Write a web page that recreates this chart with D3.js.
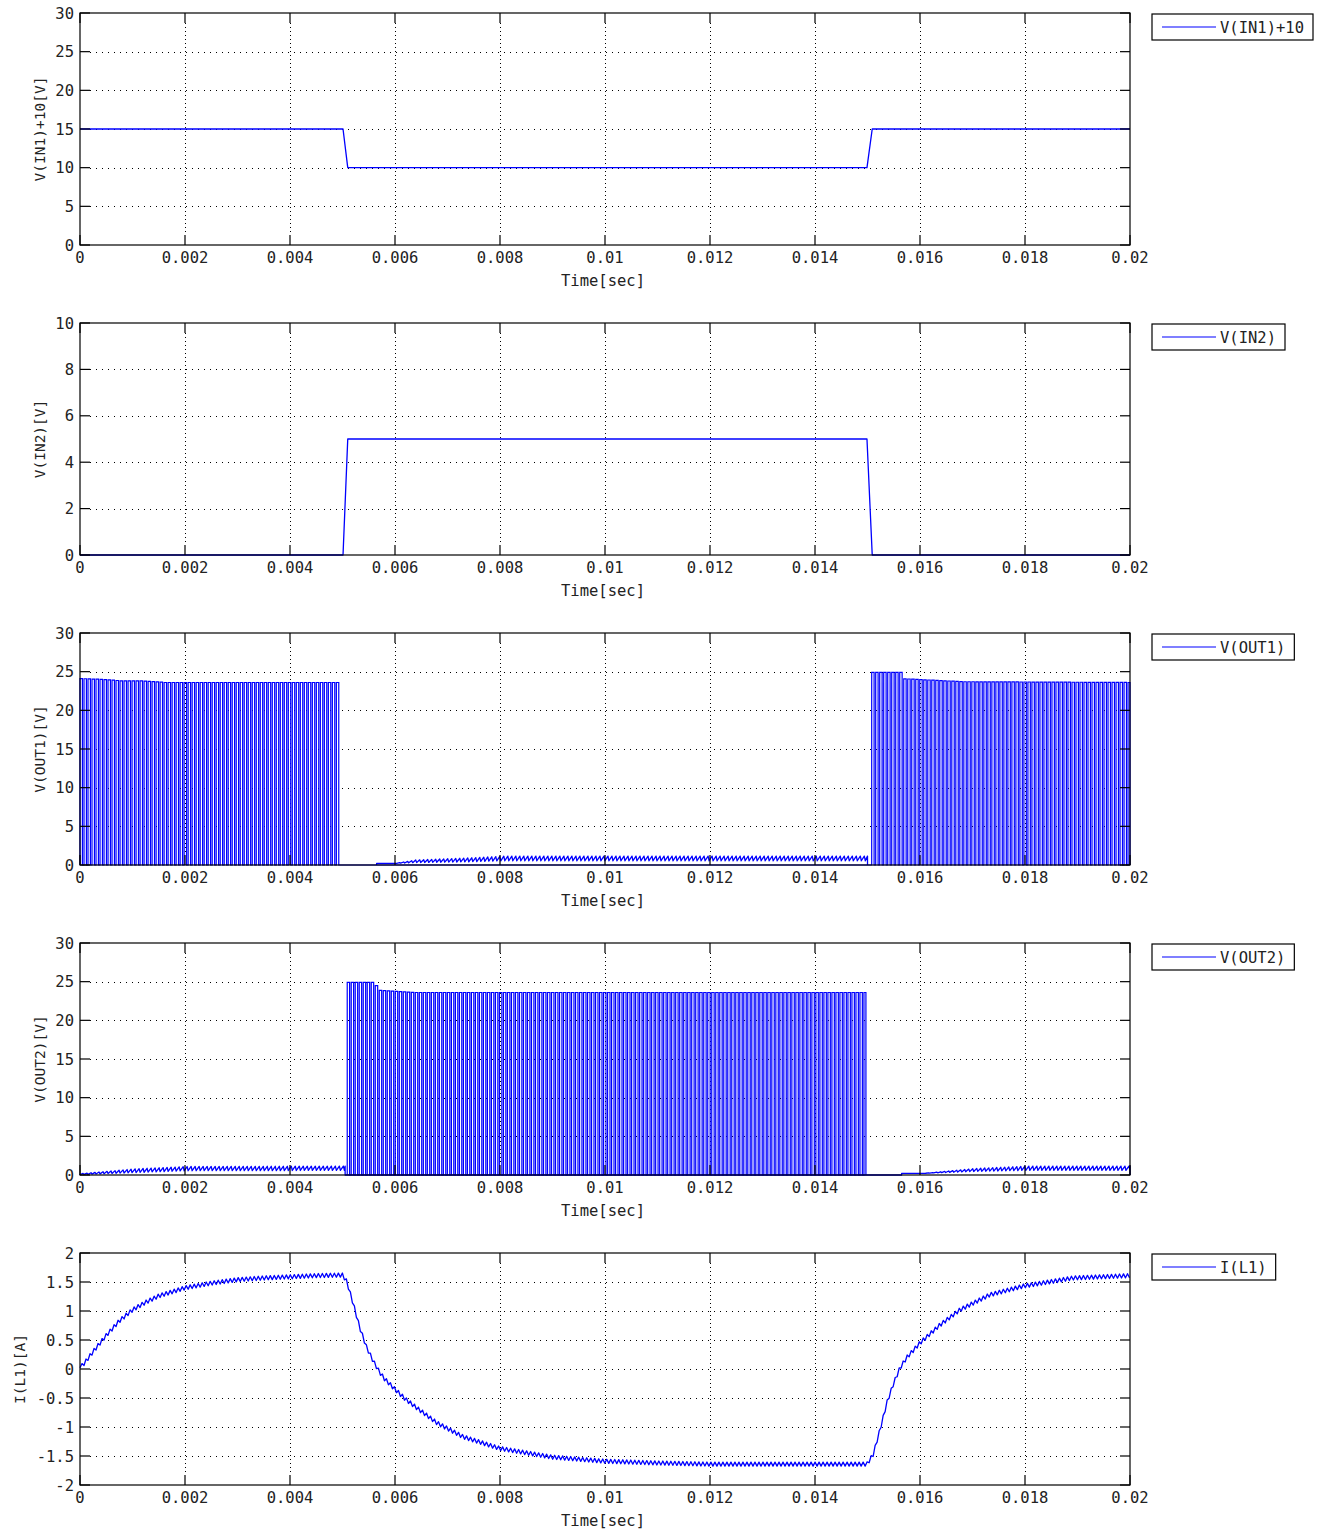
<!DOCTYPE html>
<meta charset="utf-8">
<style>
body { margin: 0; background: #fff; }
svg text { font-family: "DejaVu Sans Mono", "Liberation Mono", monospace; font-size: 15.5px; fill: #222; }
.frame { fill: none; stroke: #000; stroke-width: 1.2px; }
.tick { stroke: #000; stroke-width: 1.2px; }
.grid-h { stroke: #000; stroke-width: 1px; stroke-dasharray: 1,5; shape-rendering: crispEdges; }
.grid-v { stroke: #000; stroke-width: 1px; stroke-dasharray: 1,3; shape-rendering: crispEdges; }
.trace { fill: none; stroke: #0000ff; stroke-width: 1.3px; stroke-linejoin: round; }
.trace.pwm { stroke-width: 1.2px; stroke-linejoin: miter; }
.legend rect { fill: #fff; stroke: #000; stroke-width: 1.2px; }
.legend line { stroke: #0000ff; stroke-width: 1.2px; }
</style>
<body>
<div id="main"></div>
<script src="https://d3js.org/d3.v7.min.js"></script>
<script>
// ---- data ----
var xTicks = [0, 0.002, 0.004, 0.006, 0.008, 0.01, 0.012, 0.014, 0.016, 0.018, 0.02];
var xTickLabels = ["0", "0.002", "0.004", "0.006", "0.008", "0.01", "0.012", "0.014", "0.016", "0.018", "0.02"];

// V(IN1)+10
var in1Time = [0, 0.00501, 0.0051, 0.01499, 0.01509, 0.02];
var in1Value = [15, 15, 10, 10, 15, 15];
// V(IN2)
var in2Time = [0, 0.00501, 0.0051, 0.01499, 0.01509, 0.02];
var in2Value = [0, 0, 5, 5, 0, 0];

// switching: period read from the pulse spacing (~4 px)
var pwmPeriod = 7.63e-5;
var pwmDuty = 0.6;

// V(OUT1): pulse bursts, pulse-top level, off-state ripple
var out1BurstStart = [0, 0.01508];
var out1BurstEnd = [0.00495, 0.02];
var out1TopTime = [0, 0.0004, 0.0008, 0.0012, 0.0016, 0.00495, 0.01508, 0.01562, 0.01563, 0.0168, 0.02];
var out1TopValue = [24.1, 24.0, 23.8, 23.8, 23.6, 23.6, 24.9, 24.9, 24.1, 23.7, 23.6];
var out1RippleTime = [0.00565, 0.00594, 0.00634, 0.0073, 0.00806, 0.015];
var out1RippleLow = [0.2, 0.2, 0.3, 0.4, 0.55, 0.55];
var out1RippleHigh = [0.2, 0.2, 0.65, 0.9, 1.15, 1.15];

// V(OUT2)
var out2BurstStart = [0.00509];
var out2BurstEnd = [0.01497];
var out2TopTime = [0.00509, 0.00562, 0.00563, 0.00634, 0.01497];
var out2TopValue = [24.9, 24.9, 23.9, 23.6, 23.6];
var out2RippleTime = [0, 0.001, 0.002, 0.00505, 0.01565, 0.016, 0.017, 0.018, 0.02];
var out2RippleLow = [0.05, 0.3, 0.55, 0.6, 0.2, 0.2, 0.45, 0.6, 0.6];
var out2RippleHigh = [0.2, 0.8, 1.1, 1.15, 0.2, 0.2, 0.85, 1.15, 1.15];
var out2RippleSegStart = [0, 0.01565];
var out2RippleSegEnd = [0.00505, 0.02];

// I(L1): mean current and ripple (peak to peak)
var ilTime = [0, 0.0001, 0.00025, 0.0005, 0.00075, 0.001, 0.00125, 0.0015, 0.00175, 0.002, 0.0025, 0.003, 0.0035, 0.004, 0.0045, 0.005,
  0.00508, 0.0052, 0.00533, 0.00546, 0.00559, 0.00571, 0.0058, 0.006, 0.0062, 0.0064, 0.0068, 0.0073, 0.008, 0.009, 0.01, 0.011, 0.012,
  0.01499, 0.01511, 0.01524, 0.01537, 0.0155, 0.01562, 0.01575, 0.016, 0.01638, 0.01676, 0.01733, 0.01797, 0.01892, 0.02];
var ilValue = [0.02, 0.12, 0.3, 0.58, 0.83, 1.02, 1.15, 1.26, 1.33, 1.40, 1.48, 1.54, 1.57, 1.59, 1.61, 1.62,
  1.51, 1.14, 0.71, 0.37, 0.13, -0.06, -0.17, -0.35, -0.52, -0.66, -0.93, -1.17, -1.37, -1.52, -1.59, -1.62, -1.64,
  -1.64, -1.47, -1.04, -0.58, -0.24, 0.02, 0.20, 0.45, 0.76, 1.02, 1.28, 1.43, 1.57, 1.61];
var ilRipple = 0.07;

var panelYLabel = ["V(IN1)+10[V]", "V(IN2)[V]", "V(OUT1)[V]", "V(OUT2)[V]", "I(L1)[A]"];
var panelLegend = ["V(IN1)+10", "V(IN2)", "V(OUT1)", "V(OUT2)", "I(L1)"];
var panelYDomain = [[0, 30], [0, 10], [0, 30], [0, 30], [-2, 2]];
var panelYTicks = [
  [0, 5, 10, 15, 20, 25, 30],
  [0, 2, 4, 6, 8, 10],
  [0, 5, 10, 15, 20, 25, 30],
  [0, 5, 10, 15, 20, 25, 30],
  [-2, -1.5, -1, -0.5, 0, 0.5, 1, 1.5, 2]
];

// ---- build traces ----
function lerp(ts, vs) {
  return d3.scaleLinear().domain(ts).range(vs).clamp(true);
}

function pulses(starts, ends, topT, topV) {
  var top = lerp(topT, topV), pts = [];
  starts.forEach(function(s, i) {
    var e = ends[i];
    for (var t = s; t < e; t += pwmPeriod) {
      var tf = Math.min(t + pwmDuty * pwmPeriod, e);
      pts.push([t, 0], [t, top(t)], [tf, top(t)], [tf, 0]);
    }
  });
  return pts;
}

function ripple(starts, ends, rt, lo, hi) {
  var fLo = lerp(rt, lo), fHi = lerp(rt, hi), pts = [];
  starts.forEach(function(s, i) {
    var e = ends[i];
    pts.push([s, 0]);
    for (var t = s; t < e; t += pwmPeriod) {
      pts.push([t, fLo(t)], [Math.min(t + 0.75 * pwmPeriod, e), fHi(t)]);
    }
    pts.push([e, 0]);
  });
  return pts;
}

var out1Pulse = pulses(out1BurstStart, out1BurstEnd, out1TopTime, out1TopValue);
var out1Ripple = ripple([out1RippleTime[0]], [out1RippleTime[out1RippleTime.length - 1]], out1RippleTime, out1RippleLow, out1RippleHigh);
var out2Pulse = pulses(out2BurstStart, out2BurstEnd, out2TopTime, out2TopValue);
var out2Ripple = ripple(out2RippleSegStart, out2RippleSegEnd, out2RippleTime, out2RippleLow, out2RippleHigh);

var ilMean = d3.scaleLinear().domain(ilTime).range(ilValue);
var ilPts = [];
for (var t = 0; t <= 0.02; t += pwmPeriod / 2) {
  var k = Math.round(t / (pwmPeriod / 2));
  ilPts.push([t, ilMean(t) + (k % 2 ? ilRipple / 2 : -ilRipple / 2)]);
}
ilPts[0] = [0, ilValue[0]];

// each panel: list of [points, isPulse]
var panelData = [
  [[in1Time.map(function(t, i) { return [t, in1Value[i]]; }), false]],
  [[in2Time.map(function(t, i) { return [t, in2Value[i]]; }), false]],
  [[out1Pulse, true], [out1Ripple, false]],
  [[out2Pulse, true], [out2Ripple, false]],
  [[ilPts, false]]
];

// ---- draw ----
var svg = d3.select("#main").append("svg")
  .attr("width", 1326)
  .attr("height", 1532);

var left = 80, right = 1130, panelH = 232, tickLen = 10;
var x = d3.scaleLinear().domain([0, 0.02]).range([left, right]);

panelData.forEach(function(traces, p) {
  var top = 13 + p * 310, bottom = top + panelH;
  var y = d3.scaleLinear().domain(panelYDomain[p]).range([bottom, top]);
  var g = svg.append("g");

  // grid
  g.selectAll(".grid-h").data(panelYTicks[p].slice(1, -1)).enter().append("line")
    .attr("class", "grid-h")
    .attr("x1", left + tickLen).attr("x2", right - tickLen)
    .attr("y1", function(d) { return Math.round(y(d)) + 0.5; })
    .attr("y2", function(d) { return Math.round(y(d)) + 0.5; });
  g.selectAll(".grid-v").data(xTicks.slice(1, -1)).enter().append("line")
    .attr("class", "grid-v")
    .attr("y1", top + tickLen).attr("y2", bottom - tickLen)
    .attr("x1", function(d) { return Math.round(x(d)) + 0.5; })
    .attr("x2", function(d) { return Math.round(x(d)) + 0.5; });

  // traces
  var line = d3.line().x(function(d) { return x(d[0]); }).y(function(d) { return y(d[1]); });
  traces.forEach(function(tr) {
    g.append("path")
      .attr("class", tr[1] ? "trace pwm" : "trace")
      .attr("d", line(tr[0]));
  });

  // frame and ticks
  g.append("rect").attr("class", "frame")
    .attr("x", left).attr("y", top).attr("width", right - left).attr("height", panelH);
  panelYTicks[p].forEach(function(v) {
    g.append("line").attr("class", "tick").attr("x1", left).attr("x2", left + tickLen).attr("y1", y(v)).attr("y2", y(v));
    g.append("line").attr("class", "tick").attr("x1", right).attr("x2", right - tickLen).attr("y1", y(v)).attr("y2", y(v));
  });
  xTicks.forEach(function(v) {
    g.append("line").attr("class", "tick").attr("y1", bottom).attr("y2", bottom - tickLen).attr("x1", x(v)).attr("x2", x(v));
    g.append("line").attr("class", "tick").attr("y1", top).attr("y2", top + tickLen).attr("x1", x(v)).attr("x2", x(v));
  });

  // tick labels
  g.selectAll(".ylab").data(panelYTicks[p]).enter().append("text")
    .attr("x", left - 6).attr("y", function(d) { return y(d) + 5.5; })
    .attr("text-anchor", "end")
    .text(function(d) { return String(d); });
  g.selectAll(".xlab").data(xTicks).enter().append("text")
    .attr("x", function(d) { return x(d); }).attr("y", bottom + 18)
    .attr("text-anchor", "middle")
    .text(function(d, i) { return xTickLabels[i]; });

  g.append("text")
    .attr("x", (left + right) / 2 - 2).attr("y", bottom + 41)
    .attr("text-anchor", "middle")
    .text("Time[sec]");

  var ylx = p === 4 ? 20 : 40;
  g.append("text")
    .attr("transform", "translate(" + (ylx + 5) + "," + (top + panelH / 2) + ") rotate(-90)")
    .attr("text-anchor", "middle")
    .style("font-size", "14.5px")
    .text(panelYLabel[p]);

  // legend
  var lg = g.append("g").attr("class", "legend");
  var box = lg.append("rect").attr("x", 1152).attr("y", top + 1).attr("height", 26);
  lg.append("line").attr("x1", 1162).attr("x2", 1216).attr("y1", top + 14).attr("y2", top + 14);
  var lt = lg.append("text").attr("x", 1220).attr("y", top + 19.5).text(panelLegend[p]);
  var w = lt.node().getComputedTextLength();
  box.attr("width", 1220 + w + 9 - 1152);
});
</script>
</body>
